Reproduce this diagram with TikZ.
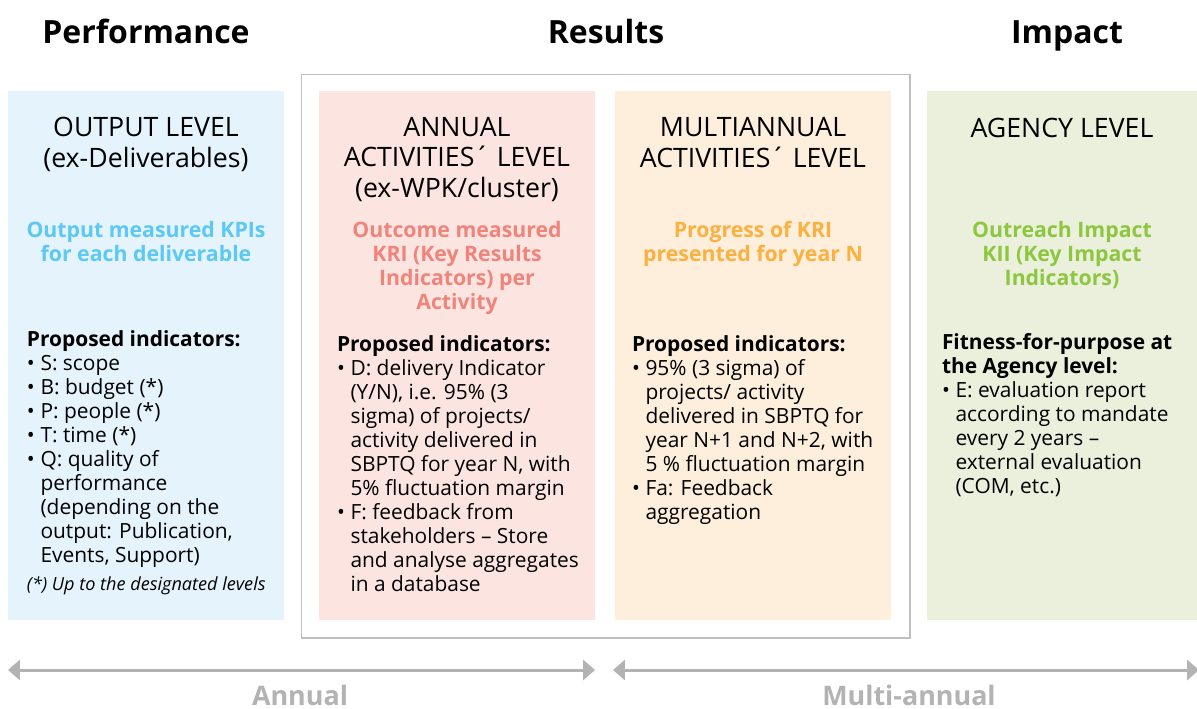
\documentclass[tikz,border=0pt]{standalone}
\usepackage{fontspec}
\setmainfont{Open Sans}
\usetikzlibrary{arrows.meta,fit,positioning}
\definecolor{outblue}{HTML}{E5F3FD}
\definecolor{outbluetext}{HTML}{5BC8F5}
\definecolor{annpink}{HTML}{FCE5E1}
\definecolor{annpinktext}{HTML}{F0847A}
\definecolor{multorange}{HTML}{FEEEDC}
\definecolor{multorangetext}{HTML}{FBB040}
\definecolor{agegreen}{HTML}{EBF0DC}
\definecolor{agegreentext}{HTML}{8DC63F}
\definecolor{spangray}{HTML}{B3B3B3}
\definecolor{framegray}{HTML}{BEBEBE}
% bullet and hanging indent of the indicator lists
\newcommand\bul{\makebox[7.7pt][l]{\textbullet}}
\newcommand\ind{\hspace*{7.7pt}}
% multi-line nodes sit on the baseline of their last line
\tikzset{
	level chart/.style={x=0.02cm, y=-0.02cm,
		every node/.style={inner sep=0pt, outer sep=0pt}},
	panel/.style={fit={#1}, inner sep=0pt, draw=none},
	col title/.style={anchor=base, font=\fontsize{18.2}{21}\selectfont\bfseries},
	lvl head/.style={anchor=base, align=center, font=\fontsize{15.2}{17.1}\selectfont},
	lvl sub/.style={anchor=base, align=center, font=\fontsize{12.1}{13.66}\selectfont\bfseries},
	lvl body/.style={anchor=base west, align=left, font=\fontsize{11.9}{13.66}\selectfont},
	lvl note/.style={anchor=base west, font=\fontsize{10.3}{12}\selectfont\itshape},
	span/.style={draw=spangray, line width=1.7pt,
		{Triangle[length=6.8pt,width=11.4pt]}-{Triangle[length=6.8pt,width=11.4pt]}},
	span label/.style={anchor=base, text=spangray, font=\fontsize{15.3}{18}\selectfont\bfseries}
}
\begin{document}
\begin{tikzpicture}[level chart]
   \useasboundingbox (0,0) rectangle (1197,708);
   % column titles
   \node[col title] (perf) at (146,43) {Performance};
   \node[col title] (res)  at (606,43) {Results};
   \node[col title] (imp)  at (1067,43) {Impact};
   % frame round the two result levels
   \draw[framegray, line width=1.1pt] (301.5,74.5) rectangle (910,638);
   % the four levels
   \node[panel={(8,91) (284,620)},   fill=outblue]    (out) {};
   \node[panel={(319,91) (595,620)}, fill=annpink]    (ann) {};
   \node[panel={(615,91) (891,620)}, fill=multorange] (mul) {};
   \node[panel={(927,91) (1197,620)},fill=agegreen]   (age) {};

   \node[lvl head] (outhead) at (146,167) {OUTPUT LEVEL\\(ex-Deliverables)};
   \node[lvl head] (annhead) at (457,197) {ANNUAL\\ACTIVITIES´ LEVEL\\(ex-WPK/cluster)};
   \node[lvl head] (mulhead) at (753,167) {MULTIANNUAL\\ACTIVITIES´ LEVEL};
   \node[lvl head] (agehead) at (1062,137) {AGENCY LEVEL};

   \node[lvl sub, text=outbluetext]    (outsub) at (146,261) {Output measured KPIs\\for each deliverable};
   \node[lvl sub, text=annpinktext]    (annsub) at (457,309) {Outcome measured\\KRI (Key Results\\Indicators) per\\Activity};
   \node[lvl sub, text=multorangetext] (mulsub) at (753,261) {Progress of KRI\\presented for year N};
   \node[lvl sub, text=agegreentext]   (agesub) at (1062,285) {Outreach Impact\\KII (Key Impact\\Indicators)};

   \node[lvl body] (outind) at (27,562) {\textbf{Proposed indicators:}\\
      \bul S: scope\\
      \bul B: budget (*)\\
      \bul P: people (*)\\
      \bul T: time (*)\\
      \bul Q: quality of\\
      \ind performance\\
      \ind (depending on the\\
      \ind output: Publication,\\
      \ind Events, Support)};
   \node[lvl note] (outnote) at (27,590) {(*) Up to the designated levels};
   \node[lvl body] (annind) at (337,591) {\textbf{Proposed indicators:}\\
      \bul D: delivery Indicator\\
      \ind (Y/N), i.e. 95\% (3\\
      \ind sigma) of projects/\\
      \ind activity delivered in\\
      \ind SBPTQ for year N, with\\
      \ind 5\% fluctuation margin\\
      \bul F: feedback from\\
      \ind stakeholders – Store\\
      \ind and analyse aggregates\\
      \ind in a database};
   \node[lvl body] (mulind) at (632,519) {\textbf{Proposed indicators:}\\
      \bul 95\% (3 sigma) of\\
      \ind projects/ activity\\
      \ind delivered in SBPTQ for\\
      \ind year N+1 and N+2, with\\
      \ind 5 \% fluctuation margin\\
      \bul Fa: Feedback\\
      \ind aggregation};
   \node[lvl body] (ageind) at (942,493) {\textbf{Fitness-for-purpose at}\\
      \textbf{the Agency level:}\\
      \bul E: evaluation report\\
      \ind according to mandate\\
      \ind every 2 years –\\
      \ind external evaluation\\
      \ind (COM, etc.)};
   % time spans
   \coordinate (annL) at (8,670);
   \coordinate (annR) at (595,670);
   \coordinate (mulL) at (613,670);
   \coordinate (mulR) at (1199,670);
   \draw[span] (annL) -- (annR);
   \draw[span] (mulL) -- (mulR);
   \node[span label] (annual) at (300,705) {Annual};
   \node[span label] (multi)  at (909,705) {Multi-annual};
\end{tikzpicture}
\end{document}
